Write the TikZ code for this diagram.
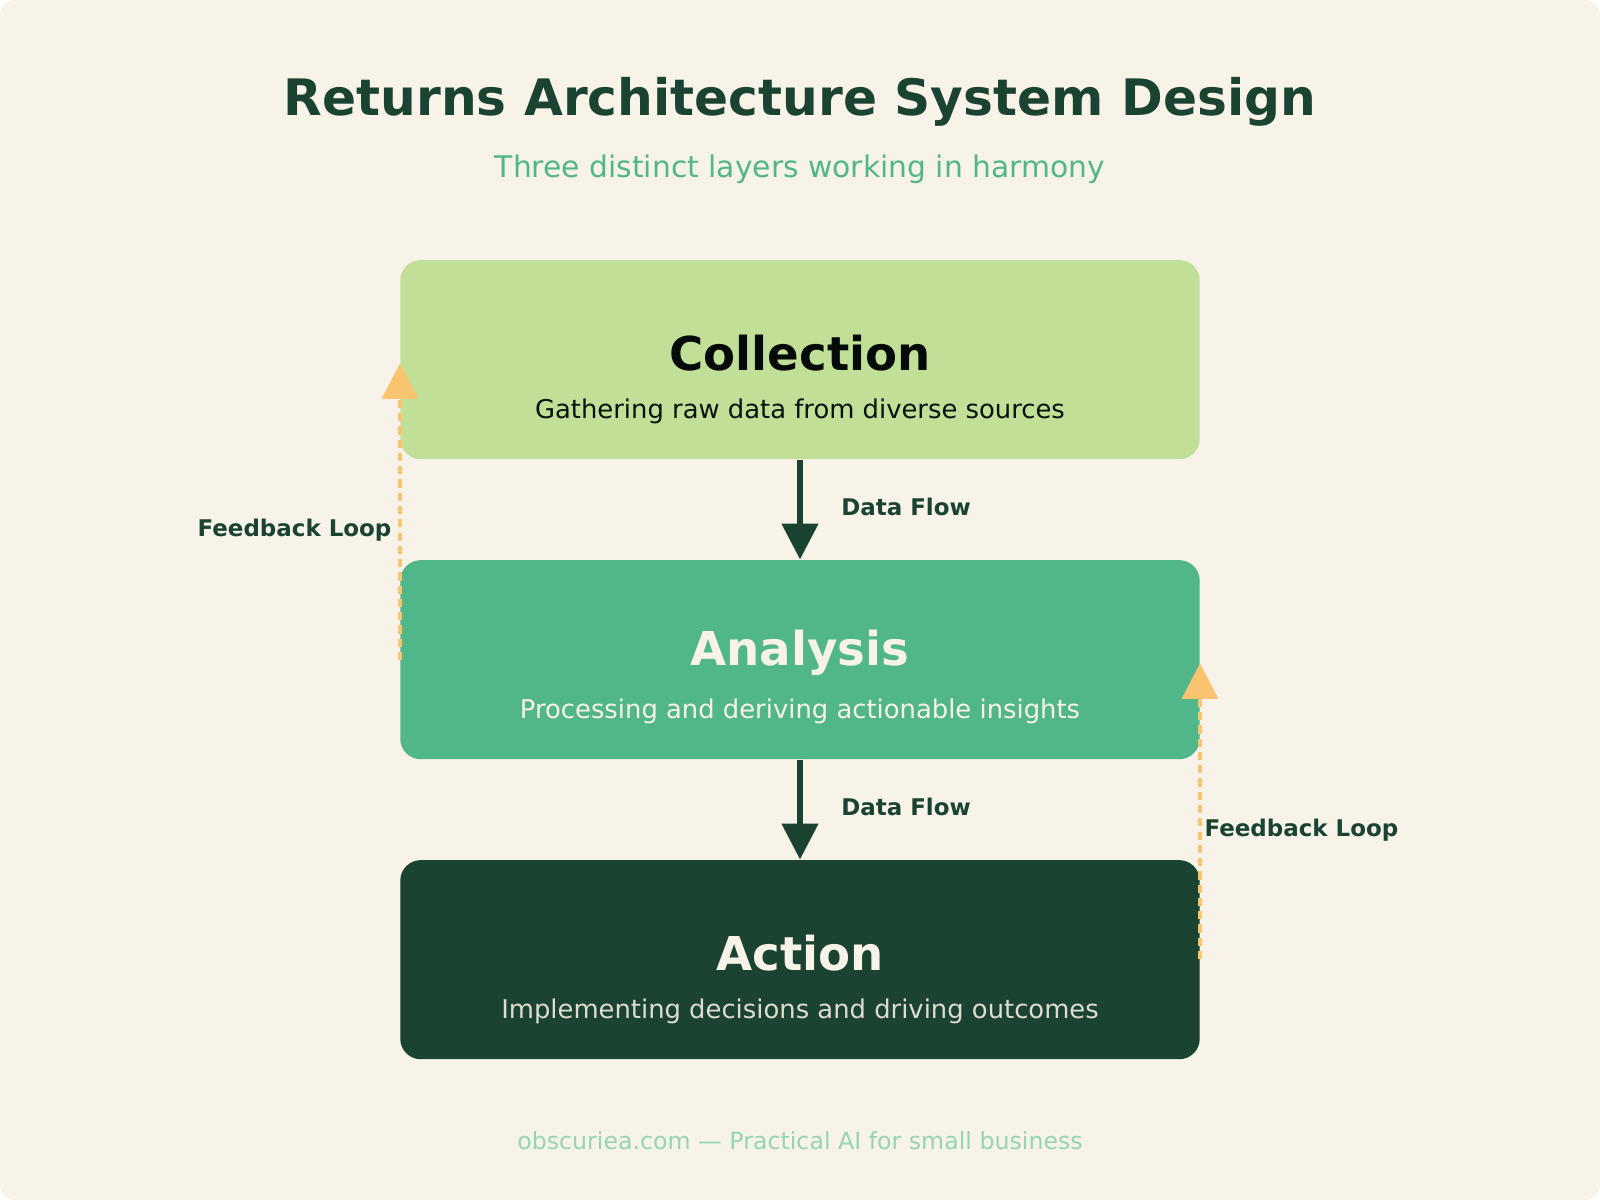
\documentclass[tikz,border=0pt]{standalone}
\usepackage{fontspec}
\setmainfont{DejaVu Sans}
\usetikzlibrary{arrows.meta,positioning}
\definecolor{bgcream}{HTML}{F7F3E9}
\definecolor{darkgreen}{HTML}{1B4332}
\definecolor{lightgreen}{HTML}{C1DF97}
\definecolor{midgreen}{HTML}{52B788}
\definecolor{palegreen}{HTML}{95D5B2}
\definecolor{loopgold}{HTML}{F9C46F}
\tikzset{
  layer/.style={rounded corners=0.2cm, minimum width=7.83cm, minimum height=1.95cm, draw=none},
  flow/.style={darkgreen, line width=0.05cm, -{Triangle[length=0.35cm,width=0.35cm]}},
  loop/.style={loopgold, line width=0.045cm, dash pattern=on 0.08cm off 0.05cm, -{Triangle[length=0.35cm,width=0.35cm]}},
  tag/.style={darkgreen, font=\fontsize{6.4}{8}\selectfont\bfseries}
}
\begin{document}
\begin{tikzpicture}[x=0.01cm,y=-0.01cm]
  \fill[bgcream, rounded corners=0.15cm] (0,0) rectangle (1568,1176);
  \useasboundingbox (0,0) rectangle (1568,1176);

  \node[darkgreen, font=\fontsize{14}{16}\selectfont\bfseries] (title) at (784,100) {Returns Architecture System Design};
  \node[midgreen, font=\fontsize{8.3}{10}\selectfont] (subtitle) at (784,166) {Three distinct layers working in harmony};

  \node[layer, fill=lightgreen] (collection) at (784,352.5) {};
  \node[layer, fill=midgreen] (analysis) at (784,646.5) {};
  \node[layer, fill=darkgreen] (action) at (784,940.5) {};

  \node[black!85!darkgreen, font=\fontsize{13}{15}\selectfont\bfseries] at (784,346) {Collection};
  \node[black!75!darkgreen, font=\fontsize{7.2}{9}\selectfont] at (784,403) {Gathering raw data from diverse sources};
  \node[bgcream, font=\fontsize{13}{15}\selectfont\bfseries] at (784,640) {Analysis};
  \node[bgcream, font=\fontsize{7.2}{9}\selectfont] at (784,697) {Processing and deriving actionable insights};
  \node[bgcream, font=\fontsize{13}{15}\selectfont\bfseries] at (784,934) {Action};
  \node[bgcream!90!black, font=\fontsize{7.2}{9}\selectfont] at (784,991) {Implementing decisions and driving outcomes};

  % data flow
  \draw[flow] (collection.south) -- (analysis.north);
  \draw[flow] (analysis.south) -- (action.north);
  \node[tag, anchor=west] at (812,497) {Data Flow};
  \node[tag, anchor=west] at (812,791) {Data Flow};

  % feedback loops
  \coordinate (fbLeftFrom) at (392,647);
  \coordinate (fbLeftTo) at (392,356);
  \coordinate (fbRightFrom) at (1176,940);
  \coordinate (fbRightTo) at (1176,650);
  \draw[loop] (fbLeftFrom) -- (fbLeftTo);
  \draw[loop] (fbRightFrom) -- (fbRightTo);
  \node[tag, anchor=east] at (396,520) {Feedback Loop};
  \node[tag, anchor=west] at (1168,814) {Feedback Loop};

  \node[palegreen, font=\fontsize{6.6}{8}\selectfont] (footer) at (784,1118) {obscuriea.com — Practical AI for small business};
\end{tikzpicture}
\end{document}
